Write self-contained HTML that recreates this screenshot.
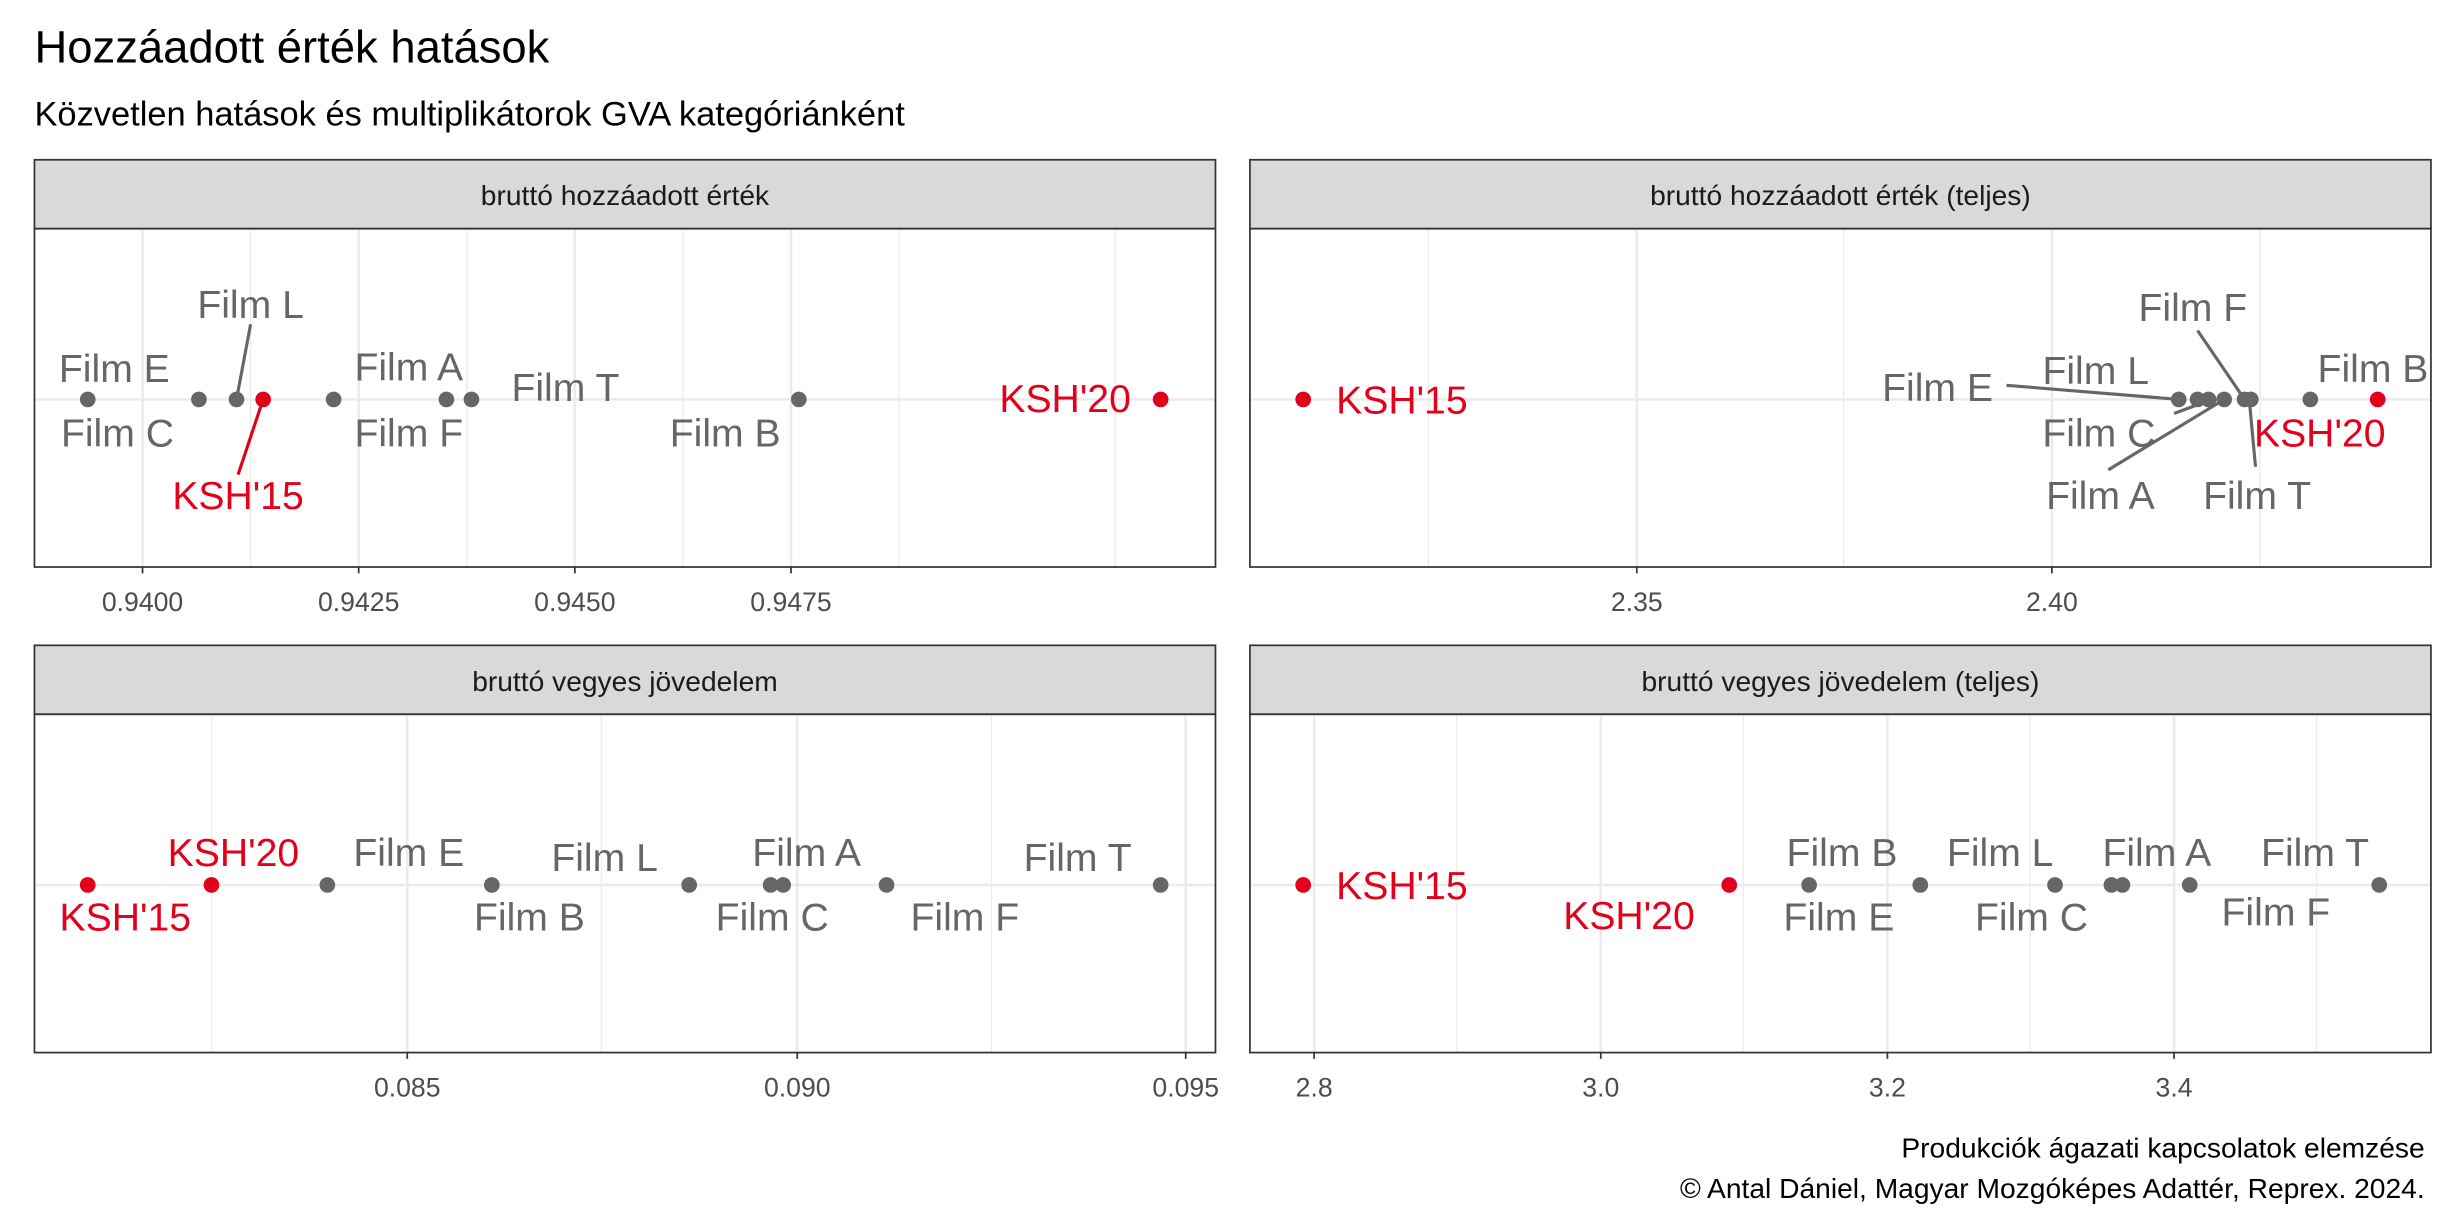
<!DOCTYPE html>
<html><head><meta charset="utf-8"><style>
html,body{margin:0;padding:0;background:#fff}
svg{display:block}
text{font-family:"Liberation Sans",Arial,sans-serif}
.g{fill:#666;font-size:25px}
.r{fill:#e2001a;font-size:25px}
.t{fill:#4d4d4d;font-size:17px;text-anchor:middle}
.s{fill:#1a1a1a;font-size:18px;text-anchor:middle}
.maj{stroke:#ebebeb;stroke-width:1.6}
.min{stroke:#ebebeb;stroke-width:0.8}
.fr{fill:none;stroke:#333;stroke-width:1.1}
.st{fill:#d9d9d9;stroke:#333;stroke-width:1.1}
.lg{stroke:#666;stroke-width:2}
.lr{stroke:#e2001a;stroke-width:2}
.tk{stroke:#333;stroke-width:1.1}
</style></head><body>
<svg width="2456" height="1228" viewBox="0 0 1568 784" xmlns="http://www.w3.org/2000/svg">
<text x="22" y="40" font-size="29" fill="#000">Hozzáadott érték hatások</text>
<text x="22" y="80" font-size="22" fill="#000">Közvetlen hatások és multiplikátorok GVA kategóriánként</text>

<!-- Panel 1 -->
<rect class="st" x="22" y="102" width="754" height="44"/>
<text class="s" x="399" y="131">bruttó hozzáadott érték</text>
<g>
<line class="min" x1="160" y1="146" x2="160" y2="362"/><line class="min" x1="298" y1="146" x2="298" y2="362"/><line class="min" x1="436" y1="146" x2="436" y2="362"/><line class="min" x1="574" y1="146" x2="574" y2="362"/><line class="min" x1="712" y1="146" x2="712" y2="362"/>
<line class="maj" x1="91" y1="146" x2="91" y2="362"/><line class="maj" x1="229" y1="146" x2="229" y2="362"/><line class="maj" x1="367" y1="146" x2="367" y2="362"/><line class="maj" x1="505" y1="146" x2="505" y2="362"/>
<line class="maj" x1="22" y1="255" x2="776" y2="255"/>
</g>
<line class="lg" x1="151" y1="255" x2="160" y2="207"/>
<line class="lr" x1="168" y1="255" x2="152" y2="303"/>
<g fill="#666"><circle cx="56" cy="255" r="5"/><circle cx="127" cy="255" r="5"/><circle cx="151" cy="255" r="5"/><circle cx="213" cy="255" r="5"/><circle cx="285" cy="255" r="5"/><circle cx="301" cy="255" r="5"/><circle cx="510" cy="255" r="5"/></g>
<g fill="#e2001a"><circle cx="168" cy="255" r="5"/><circle cx="741" cy="255" r="5"/></g>
<text class="g" x="73" y="244" text-anchor="middle">Film E</text>
<text class="g" x="75" y="285" text-anchor="middle">Film C</text>
<text class="g" x="160" y="203" text-anchor="middle">Film L</text>
<text class="r" x="152" y="325" text-anchor="middle">KSH'15</text>
<text class="g" x="261" y="243" text-anchor="middle">Film A</text>
<text class="g" x="261" y="285" text-anchor="middle">Film F</text>
<text class="g" x="361" y="256" text-anchor="middle">Film T</text>
<text class="g" x="463" y="285" text-anchor="middle">Film B</text>
<text class="r" x="680" y="263" text-anchor="middle">KSH'20</text>
<rect class="fr" x="22" y="146" width="754" height="216"/>
<g class="tk"><line x1="91" y1="362" x2="91" y2="366"/><line x1="229" y1="362" x2="229" y2="366"/><line x1="367" y1="362" x2="367" y2="366"/><line x1="505" y1="362" x2="505" y2="366"/></g>
<text class="t" x="91" y="390">0.9400</text><text class="t" x="229" y="390">0.9425</text><text class="t" x="367" y="390">0.9450</text><text class="t" x="505" y="390">0.9475</text>

<!-- Panel 2 -->
<rect class="st" x="798" y="102" width="754" height="44"/>
<text class="s" x="1175" y="131">bruttó hozzáadott érték (teljes)</text>
<g>
<line class="min" x1="912" y1="146" x2="912" y2="362"/><line class="min" x1="1177" y1="146" x2="1177" y2="362"/><line class="min" x1="1443" y1="146" x2="1443" y2="362"/>
<line class="maj" x1="1045" y1="146" x2="1045" y2="362"/><line class="maj" x1="1310" y1="146" x2="1310" y2="362"/>
<line class="maj" x1="798" y1="255" x2="1552" y2="255"/>
</g>
<line class="lg" x1="1281" y1="246" x2="1391" y2="255"/>
<line class="lg" x1="1403" y1="211" x2="1433" y2="255"/>
<line class="lg" x1="1346" y1="300" x2="1420" y2="255"/>
<line class="lg" x1="1440" y1="298" x2="1436" y2="255"/>
<line class="lg" x1="1388" y1="264" x2="1404" y2="258"/>
<g fill="#666"><circle cx="1391" cy="255" r="5"/><circle cx="1403" cy="255" r="5"/><circle cx="1410" cy="255" r="5"/><circle cx="1420" cy="255" r="5"/><circle cx="1433" cy="255" r="5"/><circle cx="1437" cy="255" r="5"/><circle cx="1475" cy="255" r="5"/></g>
<g fill="#e2001a"><circle cx="832" cy="255" r="5"/><circle cx="1518" cy="255" r="5"/></g>
<text class="r" x="895" y="264" text-anchor="middle">KSH'15</text>
<text class="g" x="1237" y="256" text-anchor="middle">Film E</text>
<text class="g" x="1338" y="245" text-anchor="middle">Film L</text>
<text class="g" x="1400" y="205" text-anchor="middle">Film F</text>
<text class="g" x="1515" y="244" text-anchor="middle">Film B</text>
<text class="g" x="1340" y="285" text-anchor="middle">Film C</text>
<text class="r" x="1481" y="285" text-anchor="middle">KSH'20</text>
<text class="g" x="1341" y="325" text-anchor="middle">Film A</text>
<text class="g" x="1441" y="325" text-anchor="middle">Film T</text>
<rect class="fr" x="798" y="146" width="754" height="216"/>
<g class="tk"><line x1="1045" y1="362" x2="1045" y2="366"/><line x1="1310" y1="362" x2="1310" y2="366"/></g>
<text class="t" x="1045" y="390">2.35</text><text class="t" x="1310" y="390">2.40</text>

<!-- Panel 3 -->
<rect class="st" x="22" y="412" width="754" height="44"/>
<text class="s" x="399" y="441">bruttó vegyes jövedelem</text>
<g>
<line class="min" x1="135" y1="456" x2="135" y2="672"/><line class="min" x1="384" y1="456" x2="384" y2="672"/><line class="min" x1="633" y1="456" x2="633" y2="672"/>
<line class="maj" x1="260" y1="456" x2="260" y2="672"/><line class="maj" x1="509" y1="456" x2="509" y2="672"/><line class="maj" x1="757" y1="456" x2="757" y2="672"/>
<line class="maj" x1="22" y1="565" x2="776" y2="565"/>
</g>
<g fill="#666"><circle cx="209" cy="565" r="5"/><circle cx="314" cy="565" r="5"/><circle cx="440" cy="565" r="5"/><circle cx="492" cy="565" r="5"/><circle cx="500" cy="565" r="5"/><circle cx="566" cy="565" r="5"/><circle cx="741" cy="565" r="5"/></g>
<g fill="#e2001a"><circle cx="56" cy="565" r="5"/><circle cx="135" cy="565" r="5"/></g>
<text class="r" x="80" y="594" text-anchor="middle">KSH'15</text>
<text class="r" x="149" y="553" text-anchor="middle">KSH'20</text>
<text class="g" x="261" y="553" text-anchor="middle">Film E</text>
<text class="g" x="338" y="594" text-anchor="middle">Film B</text>
<text class="g" x="386" y="556" text-anchor="middle">Film L</text>
<text class="g" x="515" y="553" text-anchor="middle">Film A</text>
<text class="g" x="493" y="594" text-anchor="middle">Film C</text>
<text class="g" x="616" y="594" text-anchor="middle">Film F</text>
<text class="g" x="688" y="556" text-anchor="middle">Film T</text>
<rect class="fr" x="22" y="456" width="754" height="216"/>
<g class="tk"><line x1="260" y1="672" x2="260" y2="676"/><line x1="509" y1="672" x2="509" y2="676"/><line x1="757" y1="672" x2="757" y2="676"/></g>
<text class="t" x="260" y="700">0.085</text><text class="t" x="509" y="700">0.090</text><text class="t" x="757" y="700">0.095</text>

<!-- Panel 4 -->
<rect class="st" x="798" y="412" width="754" height="44"/>
<text class="s" x="1175" y="441">bruttó vegyes jövedelem (teljes)</text>
<g>
<line class="min" x1="930" y1="456" x2="930" y2="672"/><line class="min" x1="1113" y1="456" x2="1113" y2="672"/><line class="min" x1="1296" y1="456" x2="1296" y2="672"/><line class="min" x1="1479" y1="456" x2="1479" y2="672"/>
<line class="maj" x1="839" y1="456" x2="839" y2="672"/><line class="maj" x1="1022" y1="456" x2="1022" y2="672"/><line class="maj" x1="1205" y1="456" x2="1205" y2="672"/><line class="maj" x1="1388" y1="456" x2="1388" y2="672"/>
<line class="maj" x1="798" y1="565" x2="1552" y2="565"/>
</g>
<g fill="#666"><circle cx="1155" cy="565" r="5"/><circle cx="1226" cy="565" r="5"/><circle cx="1312" cy="565" r="5"/><circle cx="1348" cy="565" r="5"/><circle cx="1355" cy="565" r="5"/><circle cx="1398" cy="565" r="5"/><circle cx="1519" cy="565" r="5"/></g>
<g fill="#e2001a"><circle cx="832" cy="565" r="5"/><circle cx="1104" cy="565" r="5"/></g>
<text class="r" x="895" y="574" text-anchor="middle">KSH'15</text>
<text class="r" x="1040" y="593" text-anchor="middle">KSH'20</text>
<text class="g" x="1176" y="553" text-anchor="middle">Film B</text>
<text class="g" x="1174" y="594" text-anchor="middle">Film E</text>
<text class="g" x="1277" y="553" text-anchor="middle">Film L</text>
<text class="g" x="1297" y="594" text-anchor="middle">Film C</text>
<text class="g" x="1377" y="553" text-anchor="middle">Film A</text>
<text class="g" x="1453" y="591" text-anchor="middle">Film F</text>
<text class="g" x="1478" y="553" text-anchor="middle">Film T</text>
<rect class="fr" x="798" y="456" width="754" height="216"/>
<g class="tk"><line x1="839" y1="672" x2="839" y2="676"/><line x1="1022" y1="672" x2="1022" y2="676"/><line x1="1205" y1="672" x2="1205" y2="676"/><line x1="1388" y1="672" x2="1388" y2="676"/></g>
<text class="t" x="839" y="700">2.8</text><text class="t" x="1022" y="700">3.0</text><text class="t" x="1205" y="700">3.2</text><text class="t" x="1388" y="700">3.4</text>

<text x="1548" y="739" font-size="18" text-anchor="end" fill="#000">Produkciók ágazati kapcsolatok elemzése</text>
<text x="1548" y="765" font-size="18" text-anchor="end" fill="#000">© Antal Dániel, Magyar Mozgóképes Adattér, Reprex. 2024.</text>
</svg>
</body></html>
